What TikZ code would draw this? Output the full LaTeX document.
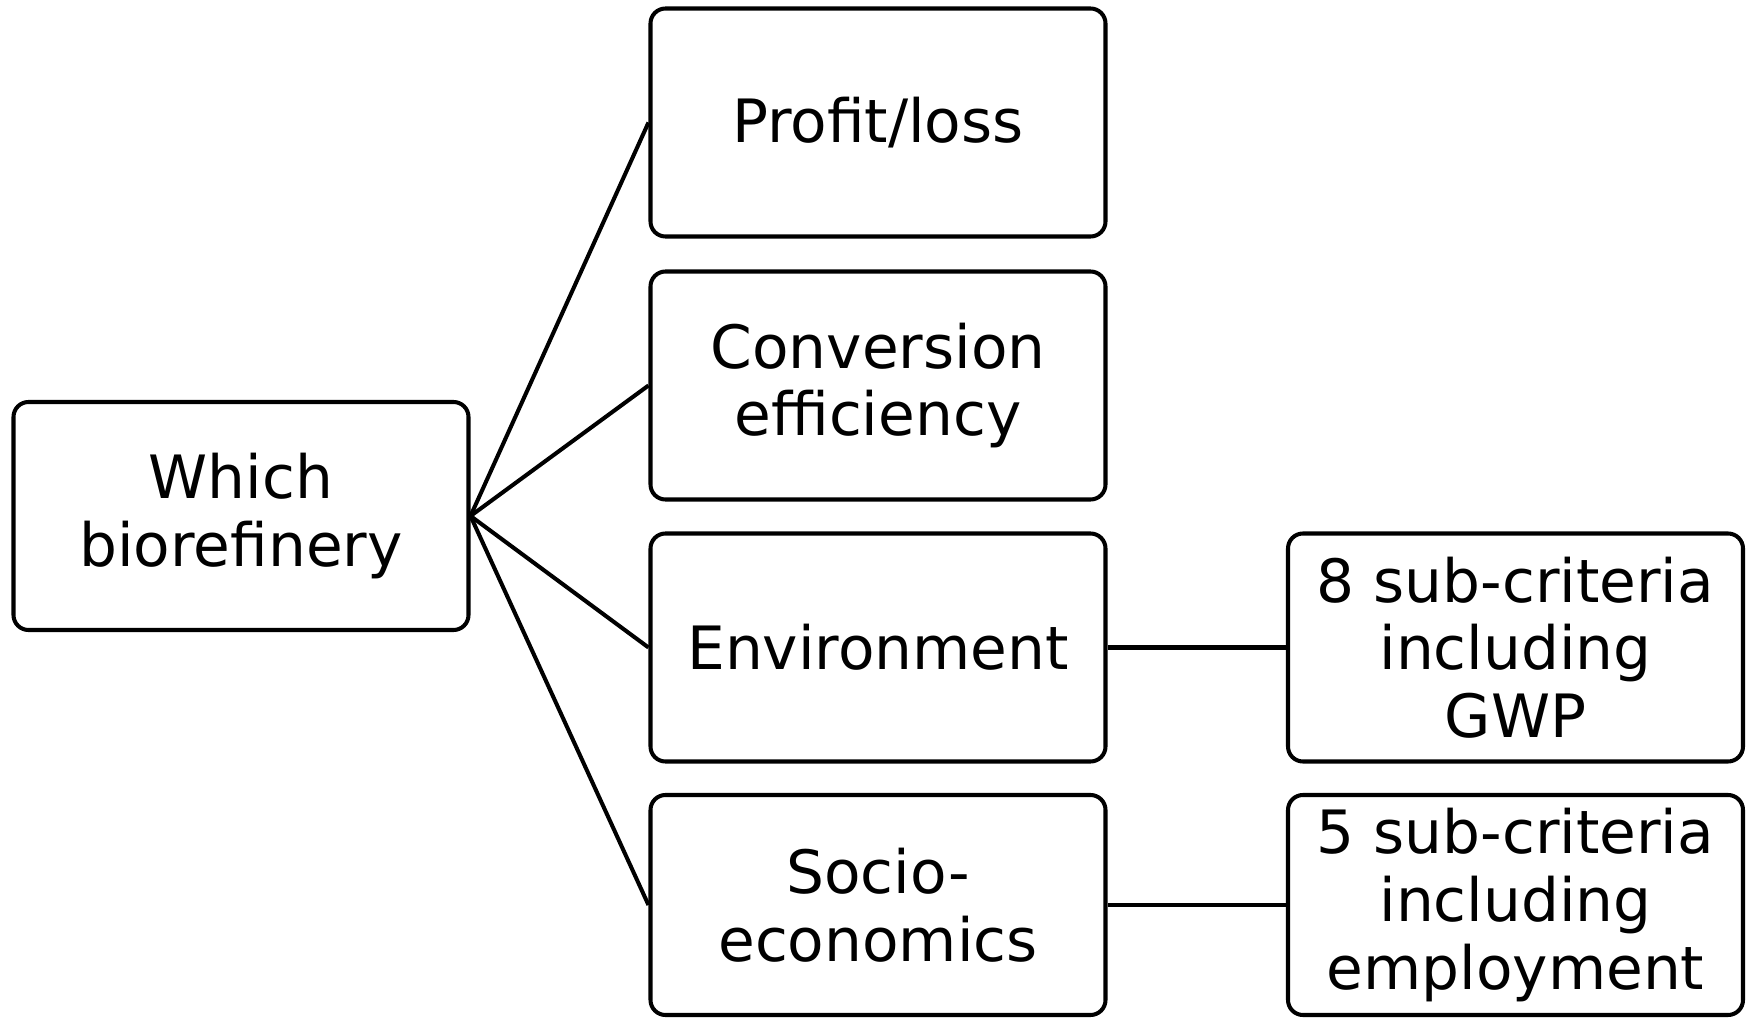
\documentclass[tikz,border=0pt]{standalone}
\usepackage{fontspec}
\setmainfont{DejaVu Sans}
\usepackage{tikz}

\begin{document}
\begin{tikzpicture}[
    box/.style={draw, line width=2.3pt, rounded corners=0.3cm, align=center,
        minimum width=9.1cm, minimum height=4.56cm, inner sep=0pt,
        font=\fontsize{34}{38.5}\selectfont},
    link/.style={line width=2.3pt}]

    \useasboundingbox (0,0) rectangle (34.92,-20.36);

    % goal
    \node[box] (goal) at (4.82,-10.32) {Which\\biorefinery};

    % criteria
    \node[box] (profit) at (17.56,-2.45) {Profit/loss};
    \node[box] (conv) at (17.56,-7.71) {Conversion\\efficiency};
    \node[box] (env) at (17.56,-12.95) {Environment};
    \node[box, minimum height=4.4cm] (socio) at (17.56,-18.1) {Socio-\\economics};

    % sub-criteria
    \node[box] (envsub) at (30.31,-12.95) {8 sub-criteria\\including\\GWP};
    \node[box, minimum height=4.4cm] (sociosub) at (30.31,-18.1) {5 sub-criteria\\including\\employment};

    % links
    \foreach \c in {profit,conv,env,socio} {
        \draw[link] (goal.east) -- (\c.west);}
    \draw[link] (env.east) -- (envsub.west);
    \draw[link] (socio.east) -- (sociosub.west);

\end{tikzpicture}
\end{document}
